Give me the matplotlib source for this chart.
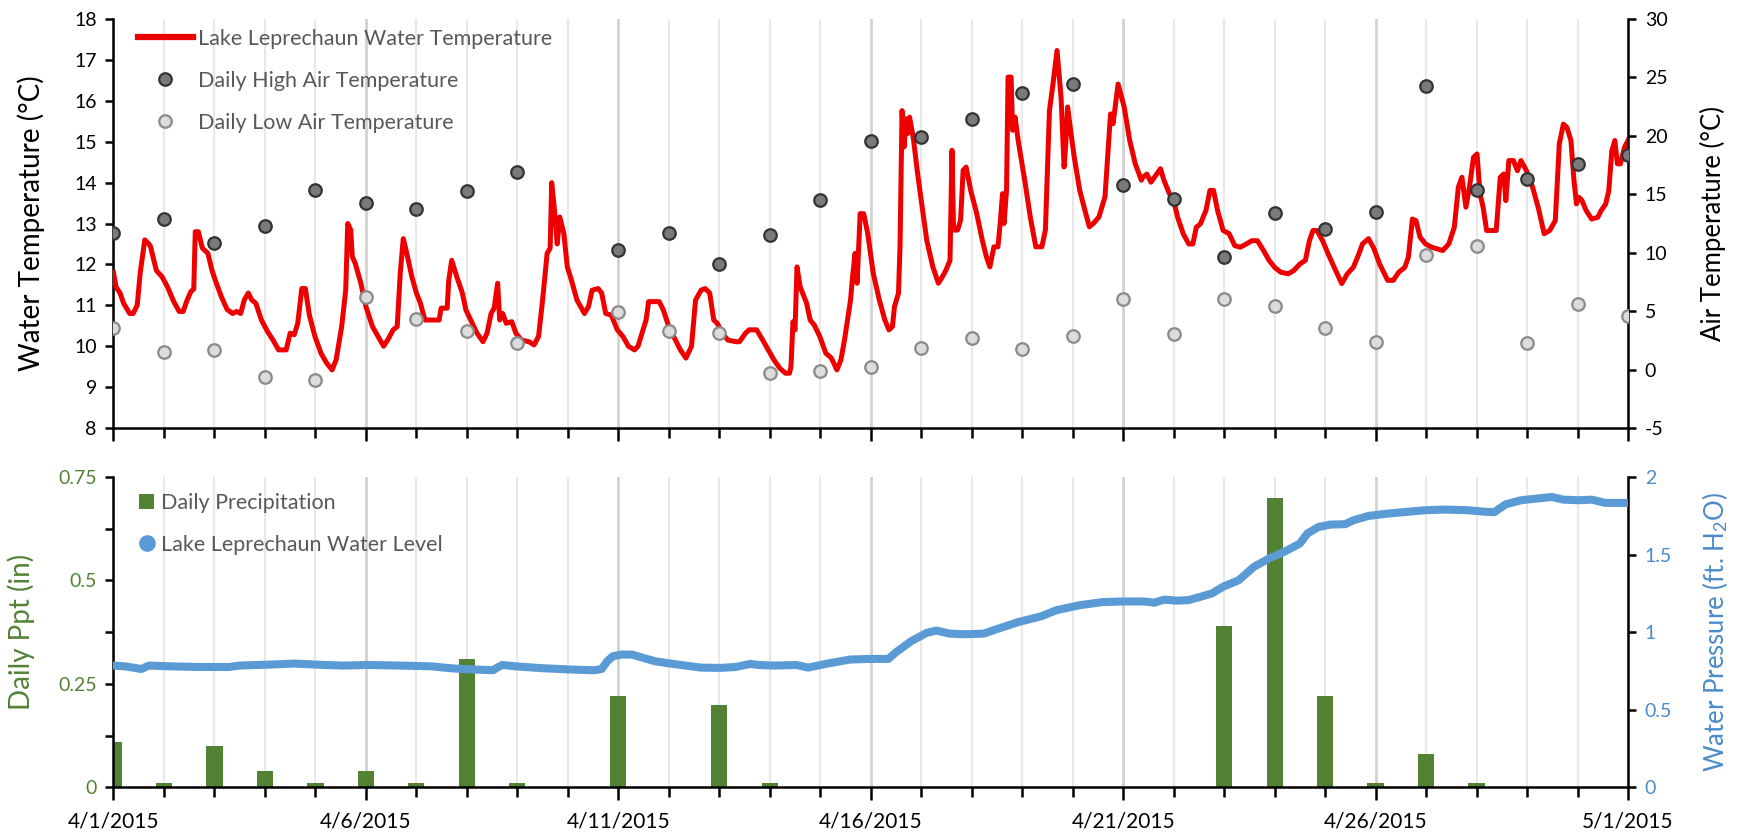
import numpy as np
import matplotlib
matplotlib.use("Agg")
import matplotlib.pyplot as plt
from matplotlib.ticker import MultipleLocator, FixedLocator, FormatStrFormatter
from matplotlib.lines import Line2D
from matplotlib.patches import Patch

plt.rcParams['font.family'] = ['Lato', 'DejaVu Sans']
plt.rcParams['mathtext.fontset'] = 'custom'
plt.rcParams['mathtext.rm'] = 'Lato'
plt.rcParams['mathtext.it'] = 'Lato:italic'

# ---------------- data ----------------
# days since 4/1/2015 00:00
x_tick_pos = [0, 5, 10, 15, 20, 25, 30]
x_tick_labels = ["4/1/2015", "4/6/2015", "4/11/2015", "4/16/2015",
                 "4/21/2015", "4/26/2015", "5/1/2015"]

# Lake Leprechaun water temperature (deg C)
wt_day = [0.00, 0.05, 0.13, 0.20, 0.32, 0.39, 0.47, 0.53, 0.62, 0.70, 0.73, 0.85, 0.96,
          1.07, 1.19, 1.30, 1.38, 1.45, 1.53, 1.59, 1.62, 1.68, 1.76, 1.87, 1.95,
          2.02, 2.14, 2.25, 2.36, 2.44, 2.52, 2.59, 2.67, 2.74, 2.82, 2.93,
          3.05, 3.16, 3.27, 3.42, 3.50, 3.58, 3.65, 3.73, 3.80, 3.88, 3.99,
          4.11, 4.22, 4.33, 4.41, 4.52, 4.60, 4.64, 4.70, 4.73, 4.79, 4.90,
          5.00, 5.13, 5.24, 5.35, 5.43, 5.54, 5.62, 5.68, 5.74, 5.81, 5.91,
          6.00, 6.08, 6.17, 6.26, 6.45, 6.49, 6.61, 6.64, 6.70, 6.80, 6.91, 6.98,
          7.14, 7.20, 7.32, 7.40, 7.48, 7.54, 7.61, 7.65, 7.71, 7.78, 7.89, 7.97,
          8.08, 8.23, 8.33, 8.42, 8.50, 8.59, 8.65, 8.68, 8.73, 8.79, 8.84, 8.92, 8.99,
          9.07, 9.18, 9.33, 9.41, 9.48, 9.60, 9.67, 9.75, 9.86, 9.98,
          10.09, 10.20, 10.32, 10.39, 10.47, 10.55, 10.60, 10.70, 10.81, 10.89,
          11.00, 11.11, 11.23, 11.34, 11.45, 11.53, 11.64, 11.72, 11.81, 11.89, 11.96,
          12.06, 12.17, 12.33, 12.40, 12.52, 12.59, 12.74, 12.86, 12.97,
          13.08, 13.20, 13.31, 13.39, 13.42, 13.46, 13.50, 13.54, 13.60, 13.65, 13.73, 13.80, 13.88, 13.99,
          14.11, 14.22, 14.33, 14.41, 14.48, 14.60, 14.64, 14.69, 14.73, 14.79, 14.86, 14.94,
          15.05, 15.17, 15.28, 15.36, 15.43, 15.47, 15.55, 15.58, 15.62, 15.66, 15.70, 15.73, 15.77, 15.85, 15.92,
          16.00, 16.11, 16.23, 16.34, 16.42, 16.49, 16.57, 16.61, 16.64, 16.72, 16.78, 16.83, 16.89, 16.98,
          17.10, 17.21, 17.29, 17.36, 17.44, 17.52, 17.57, 17.61, 17.64, 17.69, 17.72, 17.78, 17.81, 17.86, 17.92,
          18.05, 18.16, 18.27, 18.39, 18.46, 18.54, 18.61, 18.69, 18.77, 18.83, 18.86, 18.90, 18.95,
          19.03, 19.14, 19.26, 19.33, 19.41, 19.52, 19.64, 19.75, 19.80, 19.90,
          20.02, 20.13, 20.24, 20.36, 20.39, 20.47, 20.55, 20.62, 20.74, 20.81, 20.92,
          21.00, 21.08, 21.19, 21.30, 21.38, 21.45, 21.53, 21.64, 21.72, 21.79, 21.87, 21.98,
          22.10, 22.21, 22.32, 22.44, 22.55, 22.66, 22.78, 22.89,
          23.00, 23.12, 23.27, 23.38, 23.50, 23.61, 23.69, 23.76, 23.84, 23.95,
          24.06, 24.18, 24.33, 24.44, 24.56, 24.67, 24.74, 24.86, 24.97,
          25.08, 25.24, 25.35, 25.46, 25.58, 25.65, 25.73, 25.80, 25.88, 25.99,
          26.11, 26.22, 26.33, 26.45, 26.56, 26.64, 26.71, 26.79, 26.86, 26.94,
          27.01, 27.07, 27.13, 27.20, 27.32, 27.39, 27.47, 27.54, 27.58, 27.64, 27.73, 27.81, 27.88, 27.99,
          28.11, 28.22, 28.34, 28.45, 28.56, 28.64, 28.72, 28.79, 28.87, 28.93, 28.98,
          29.03, 29.09, 29.17, 29.28, 29.40, 29.47, 29.56, 29.62, 29.68, 29.74, 29.79, 29.85, 29.93, 30.00]
wt_val = [11.8, 11.45, 11.3, 11.05, 10.8, 10.8, 11.0, 11.8, 12.6, 12.5, 12.45, 11.85, 11.7,
          11.45, 11.1, 10.85, 10.85, 11.1, 11.33, 11.4, 12.8, 12.8, 12.4, 12.27, 11.86,
          11.6, 11.2, 10.9, 10.8, 10.85, 10.8, 11.13, 11.3, 11.13, 11.05, 10.64,
          10.36, 10.15, 9.91, 9.91, 10.32, 10.28, 10.56, 11.41, 11.41, 10.76, 10.24,
          9.83, 9.59, 9.42, 9.67, 10.48, 11.37, 13.0, 12.84, 12.19, 12.02, 11.54,
          10.97, 10.48, 10.24, 10.0, 10.15, 10.4, 10.48, 11.78, 12.63, 12.27, 11.7,
          11.3, 11.05, 10.64, 10.64, 10.64, 10.93, 10.93, 11.6, 12.1, 11.7, 11.3, 10.89,
          10.48, 10.32, 10.11, 10.32, 10.8, 10.93, 11.54, 10.64, 10.8, 10.56, 10.6, 10.32,
          10.15, 10.11, 10.03, 10.24, 11.13, 12.27, 12.4, 14.0, 13.4, 12.5, 13.16, 12.76, 11.94,
          11.62, 11.13, 10.8, 10.97, 11.37, 11.41, 11.3, 10.8, 10.76, 10.4,
          10.24, 10.0, 9.91, 10.0, 10.32, 10.64, 11.09, 11.09, 11.09, 10.89,
          10.48, 10.2, 9.91, 9.71, 10.0, 11.13, 11.37, 11.41, 11.3, 10.64, 10.56,
          10.32, 10.15, 10.11, 10.11, 10.32, 10.4, 10.4, 10.15, 9.91,
          9.67, 9.46, 9.34, 9.34, 9.5, 10.6, 10.4, 11.94, 11.46, 11.3, 11.05, 10.64, 10.52, 10.24,
          9.83, 9.71, 9.42, 9.67, 10.15, 11.13, 11.7, 12.27, 11.54, 13.24, 13.24, 12.76,
          11.78, 11.13, 10.64, 10.4, 10.48, 10.97, 11.3, 12.43, 15.76, 14.87, 15.56, 15.2, 15.6, 15.03, 14.3,
          13.57, 12.59, 11.94, 11.54, 11.7, 11.86, 12.1, 14.79, 12.84, 12.84, 13.08, 14.3, 14.38, 13.81,
          13.24, 12.59, 12.19, 11.94, 12.43, 12.43, 13.08, 13.73, 13.0, 13.81, 16.58, 16.58, 15.28, 15.6, 15.03,
          14.06, 13.16, 12.43, 12.43, 12.84, 15.76, 16.41, 17.23, 16.09, 14.38, 14.87, 15.85, 15.36,
          14.63, 13.81, 13.24, 12.92, 13.0, 13.16, 13.65, 15.68, 15.44, 16.41,
          15.85, 15.03, 14.46, 14.06, 14.13, 14.21, 14.01, 14.13, 14.34, 14.05, 13.72,
          13.56, 13.15, 12.75, 12.5, 12.5, 12.91, 12.99, 13.32, 13.81, 13.81, 13.32, 12.83,
          12.75, 12.46, 12.42, 12.5, 12.58, 12.58, 12.34, 12.1,
          11.93, 11.81, 11.77, 11.85, 12.01, 12.1, 12.58, 12.83, 12.83, 12.58,
          12.26, 11.93, 11.53, 11.77, 11.93, 12.26, 12.5, 12.63, 12.38,
          12.01, 11.61, 11.61, 11.81, 11.93, 12.18, 13.11, 13.07, 12.67, 12.5,
          12.42, 12.38, 12.34, 12.5, 12.91, 13.89, 14.13, 13.4, 13.89, 14.62,
          14.7, 13.72, 13.4, 12.83, 12.83, 12.83, 14.13, 14.21, 13.56, 14.54, 14.54, 14.29, 14.54, 14.29,
          13.89, 13.4, 12.75, 12.83, 13.07, 14.95, 15.43, 15.35, 15.03, 14.05, 13.48,
          13.64, 13.56, 13.32, 13.11, 13.15, 13.32, 13.48, 13.81, 14.78, 15.03, 14.46, 14.46, 14.86, 15.03]

# Daily high / low air temperature (deg C), one per day (4/10 missing)
air_day = list(range(31))
air_high = [11.66, 12.85, 10.86, 12.26, 15.34, 14.24, 13.73, 15.32, 16.88, np.nan,
            10.23, 11.66, 9.07, 11.52, 14.53, 19.6, 19.88, 21.46, 23.7, 24.4,
            15.83, 14.6, 9.6, 13.4, 12.0, 13.5, 24.3, 15.4, 16.3, 17.6, 18.4]
air_low = [3.54, 1.52, 1.69, -0.66, -0.87, 6.2, 4.31, 3.31, 2.26, np.nan,
           4.9, 3.3, 3.15, -0.25, -0.1, 0.18, 1.83, 2.68, 1.75, 2.91,
           6.03, 3.05, 6.04, 5.44, 3.6, 2.4, 9.83, 10.54, 2.28, 5.58, 4.6]

# Daily precipitation (in)
ppt_day = list(range(31))
ppt_val = [0.11, 0.01, 0.10, 0.04, 0.01, 0.04, 0.01, 0.31, 0.01, 0.0,
           0.22, 0.0, 0.20, 0.01, 0.0, 0.0, 0.0, 0.0, 0.0, 0.0,
           0.0, 0.0, 0.39, 0.70, 0.22, 0.01, 0.08, 0.01, 0.0, 0.0, 0.0]

# Lake Leprechaun water level (water pressure, ft H2O)
wl_day = [0.00, 0.24, 0.55, 0.70, 1.15, 1.68, 2.29, 2.48, 3.05, 3.58, 4.18, 4.56, 5.02, 5.70,
          6.30, 6.68, 6.91, 7.52, 7.59, 7.70, 7.97, 8.50, 9.11, 9.52, 9.67, 9.78, 9.89,
          10.05, 10.27, 10.50, 10.73, 10.95, 11.33, 11.64, 12.02, 12.32, 12.62, 12.77,
          13.08, 13.53, 13.76, 14.14, 14.59, 14.97, 15.35, 15.50, 15.80, 16.11, 16.30,
          16.56, 16.86, 17.24, 17.47, 17.92, 18.38, 18.68, 19.14, 19.59, 19.97, 20.42,
          20.62, 20.81, 21.08, 21.30, 21.53, 21.76, 21.98, 22.29, 22.59, 22.89, 23.19,
          23.50, 23.65, 23.87, 24.10, 24.40, 24.56, 24.86, 25.24, 25.61, 25.99, 26.37,
          26.82, 27.13, 27.35, 27.58, 27.88, 28.19, 28.49, 28.72, 29.02, 29.28, 29.55, 30.00]
wl_val = [0.785, 0.78, 0.763, 0.785, 0.78, 0.776, 0.776, 0.785, 0.791, 0.798, 0.789, 0.785, 0.789, 0.785,
          0.78, 0.768, 0.763, 0.755, 0.77, 0.789, 0.78, 0.768, 0.759, 0.755, 0.763, 0.813, 0.845,
          0.856, 0.856, 0.834, 0.813, 0.802, 0.785, 0.772, 0.77, 0.776, 0.796, 0.789,
          0.785, 0.789, 0.772, 0.798, 0.824, 0.828, 0.828, 0.871, 0.942, 0.996, 1.011,
          0.991, 0.987, 0.991, 1.017, 1.065, 1.103, 1.142, 1.174, 1.194, 1.198, 1.198,
          1.19, 1.21, 1.203, 1.207, 1.228, 1.25, 1.293, 1.335, 1.421, 1.475, 1.518,
          1.571, 1.636, 1.678, 1.693, 1.696, 1.721, 1.749, 1.764, 1.775, 1.786, 1.79,
          1.786, 1.777, 1.773, 1.824, 1.85, 1.861, 1.871, 1.854, 1.85, 1.854, 1.833, 1.833]

# ---------------- style ----------------
RED = '#EE0000'
GREEN = '#548235'
BLUE = '#5B9BD5'
BLUE_TXT = '#4A8BC9'
GRAY_TXT = '#595959'
TICK_FS = 14
LABEL_FS_L = 20
LABEL_FS_R = 18.5
LEG_FS = 15.5

fig = plt.figure(figsize=(17.38, 8.34), dpi=100)

L, W = 0.0653, 0.8714


def style_xaxis(ax):
    ax.set_xlim(0, 30)
    ax.xaxis.set_major_locator(FixedLocator(x_tick_pos))
    ax.xaxis.set_minor_locator(MultipleLocator(1))
    ax.grid(axis='x', which='minor', color='#E8E8E8', lw=1.5)
    ax.grid(axis='x', which='major', color='#D2D2D2', lw=2)
    ax.set_axisbelow(True)
    ax.tick_params(axis='x', which='major', length=9, width=1.8, direction='out', color='black')
    ax.tick_params(axis='x', which='minor', length=7, width=1.8, direction='out', color='black')
    for s in ['top', 'right']:
        ax.spines[s].set_visible(False)
    for s in ['left', 'bottom']:
        ax.spines[s].set_linewidth(1.8)


# ---------------- top panel ----------------
ax1 = fig.add_axes([L, 0.4868, W, 0.4904])
style_xaxis(ax1)
ax1.tick_params(axis='x', labelbottom=False)
ax1.plot(wt_day, wt_val, color=RED, lw=3.6, solid_joinstyle='round', zorder=3)
ax1.set_ylim(8, 18)
ax1.yaxis.set_major_locator(MultipleLocator(1))
ax1.yaxis.set_major_formatter(FormatStrFormatter('%g'))
ax1.tick_params(axis='y', length=6, width=1.8, labelsize=TICK_FS, pad=6)
ax1.set_ylabel('Water Temperature (°C)', fontsize=LABEL_FS_L)
ax1.yaxis.set_label_coords(-0.045, 0.5)

ax1t = ax1.twinx()
ax1t.set_ylim(-5, 30)
ax1t.yaxis.set_major_locator(MultipleLocator(5))
ax1t.yaxis.set_major_formatter(FormatStrFormatter('%g'))
ax1t.tick_params(axis='y', length=6, width=1.8, labelsize=TICK_FS, pad=6)
for s in ['top', 'left', 'bottom']:
    ax1t.spines[s].set_visible(False)
ax1t.spines['right'].set_linewidth(1.8)
ax1t.plot(air_day, air_high, 'o', ls='none', ms=9, mfc='#7A7A7A', mec='#333333', mew=1.6, zorder=4)
ax1t.plot(air_day, air_low, 'o', ls='none', ms=9, mfc='#DCDCDC', mec='#8A8A8A', mew=1.6, zorder=4)
ax1t.set_ylabel('Air Temperature (°C)', fontsize=LABEL_FS_R)
ax1t.yaxis.set_label_coords(1.0475, 0.5)

h_wt = Line2D([], [], color=RED, lw=4.5)
h_hi = Line2D([], [], marker='o', ls='none', ms=9, mfc='#7A7A7A', mec='#333333', mew=1.6)
h_lo = Line2D([], [], marker='o', ls='none', ms=9, mfc='#DCDCDC', mec='#8A8A8A', mew=1.6)
leg1 = ax1t.legend([h_wt, h_hi, h_lo],
                   ['Lake Leprechaun Water Temperature', 'Daily High Air Temperature',
                    'Daily Low Air Temperature'],
                   loc='upper left', bbox_to_anchor=(0.016, 0.9765), frameon=False,
                   fontsize=LEG_FS, handlelength=2.55, handletextpad=0.25,
                   labelspacing=1.03, borderpad=0, borderaxespad=0)
for t in leg1.get_texts():
    t.set_color(GRAY_TXT)

# ---------------- bottom panel ----------------
ax2 = fig.add_axes([L, 0.0558, W, 0.3723])
style_xaxis(ax2)
ax2.set_xticklabels(x_tick_labels)
ax2.tick_params(axis='x', labelsize=TICK_FS + 1, pad=8)
ax2.bar(ppt_day, ppt_val, width=0.32, color=GREEN, zorder=2)
ax2.set_ylim(0, 0.75)
ax2.yaxis.set_major_locator(MultipleLocator(0.25))
ax2.yaxis.set_minor_locator(MultipleLocator(0.125))
ax2.yaxis.set_major_formatter(FormatStrFormatter('%g'))
ax2.tick_params(axis='y', which='both', length=6, width=1.8, labelsize=TICK_FS,
                labelcolor=GREEN, pad=6)
ax2.set_ylabel('Daily Ppt (in)', fontsize=LABEL_FS_L, color=GREEN)
ax2.yaxis.set_label_coords(-0.0515, 0.5)

ax2t = ax2.twinx()
ax2t.set_ylim(0, 2)
ax2t.yaxis.set_major_locator(MultipleLocator(0.5))
ax2t.yaxis.set_major_formatter(FormatStrFormatter('%g'))
ax2t.tick_params(axis='y', length=6, width=1.8, labelsize=TICK_FS, labelcolor=BLUE_TXT, pad=6)
for s in ['top', 'left', 'bottom']:
    ax2t.spines[s].set_visible(False)
ax2t.spines['right'].set_linewidth(1.8)
ax2t.plot(wl_day, wl_val, color=BLUE, lw=5.8, solid_capstyle='round',
          solid_joinstyle='round', zorder=4)
ax2t.set_ylabel('Water Pressure (ft. H$_2$O)', fontsize=LABEL_FS_R, color=BLUE_TXT)
ax2t.yaxis.set_label_coords(1.0475, 0.5)

h_pp = Patch(facecolor=GREEN, edgecolor='none')
h_wl = Line2D([], [], marker='o', ls='none', ms=11, color=BLUE)
leg2 = ax2t.legend([h_pp, h_wl], ['Daily Precipitation', 'Lake Leprechaun Water Level'],
                   loc='upper left', bbox_to_anchor=(0.017, 0.947), frameon=False,
                   fontsize=LEG_FS, handlelength=0.7, handleheight=0.7, handletextpad=0.3,
                   labelspacing=0.99, borderpad=0, borderaxespad=0)
for t in leg2.get_texts():
    t.set_color(GRAY_TXT)

fig.savefig('out.png', dpi=100)
